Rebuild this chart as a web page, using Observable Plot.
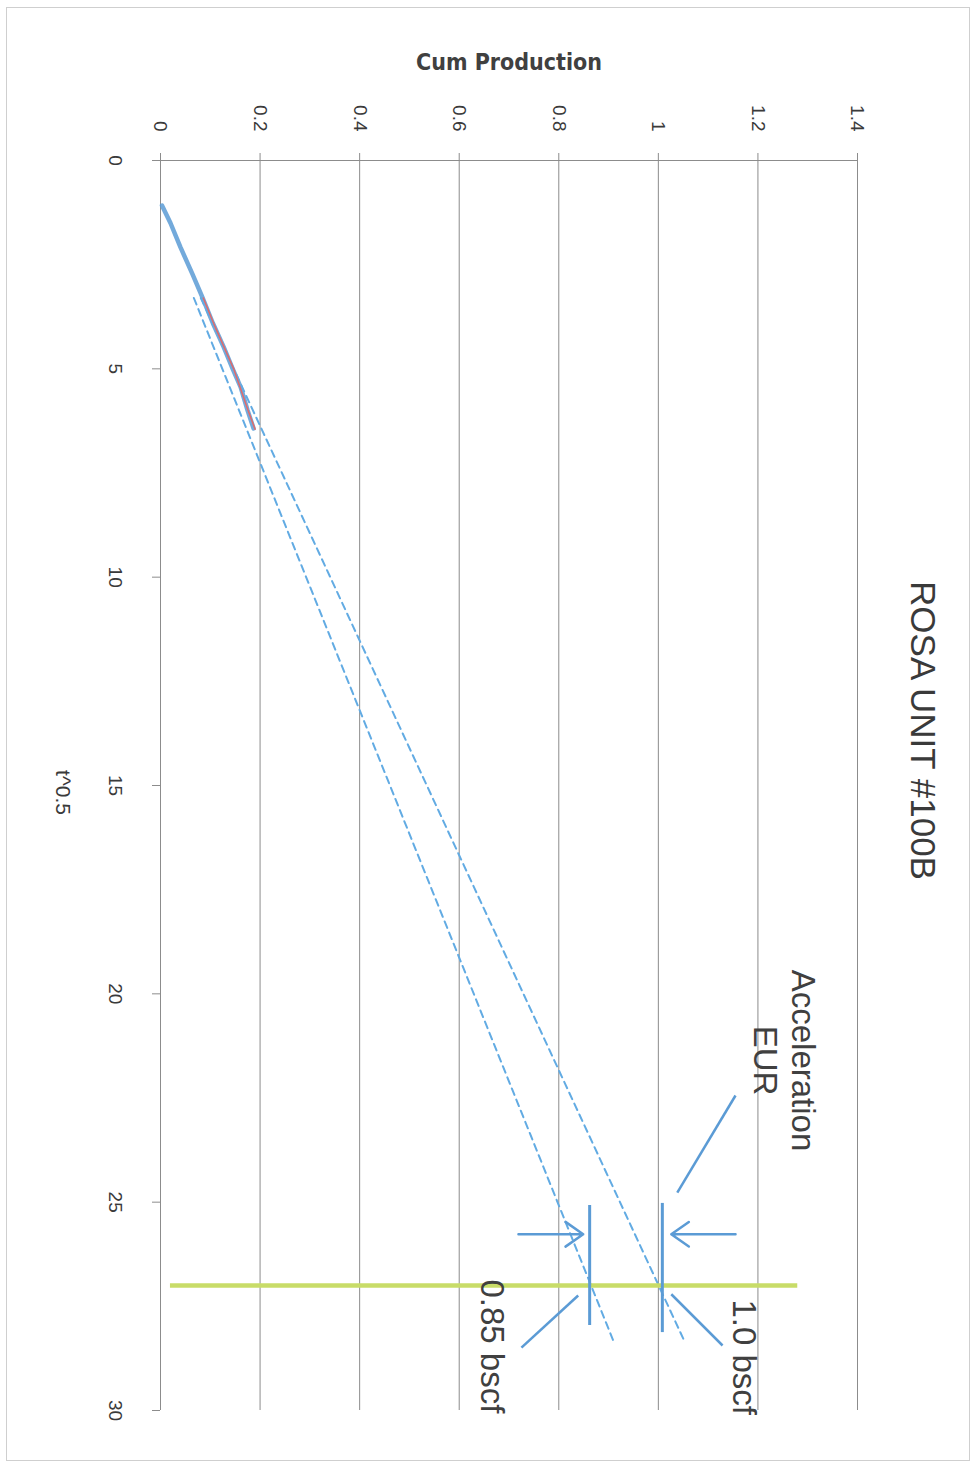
<!DOCTYPE html>
<html>
<head>
<meta charset="utf-8">
<script src="https://cdn.jsdelivr.net/npm/d3@7"></script>
<script src="https://cdn.jsdelivr.net/npm/@observablehq/plot@0.6"></script>
<style>
  html, body { margin: 0; padding: 0; background: #ffffff; }
  #wrap { position: relative; width: 978px; height: 1467px; overflow: hidden; }
  #border { position: absolute; left: 6px; top: 7px; width: 962px; height: 1452px; border: 1px solid #cfcfcf; pointer-events: none; }
</style>
</head>
<body>
<div id="wrap"><div id="border"></div></div>
<script>
// ---- data ----
const chartTitle = "ROSA UNIT #100B";
const yTitle = "Cum Production";
const xTitle = "t^0.5";
const cumTicks = [0, 0.2, 0.4, 0.6, 0.8, 1, 1.2, 1.4];
const tTicks = [0, 5, 10, 15, 20, 25, 30];

// observed cumulative production vs sqrt(time)
const tObs   = [1.08, 1.5, 2.08, 2.72, 3.28, 3.9, 4.48, 5.0, 5.44, 6.0, 6.43];
const cumObs = [0.003, 0.020, 0.040, 0.064, 0.084, 0.105, 0.127, 0.145, 0.161, 0.175, 0.187];

// red fitted segment
const tFit   = [3.3, 4.0, 5.0, 6.0, 6.45];
const cumFit = [0.086, 0.110, 0.147, 0.176, 0.190];

// dashed extrapolations
const tDashA   = [3.3, 28.3];
const cumDashA = [0.081, 1.051];
const tDashB   = [3.3, 28.4];
const cumDashB = [0.067, 0.912];

// evaluation time (green line)
const tEval = 27;
const cumEvalRange = [0.02, 1.28];

// EUR markers
const eurCum = [1.008, 0.862];
const eurT1 = [25.03, 25.08];
const eurT2 = [28.13, 27.96];

// arrows pointing at the EUR markers
const arrowCumFrom = [1.155, 0.719];
const arrowCumTo   = [1.026, 0.849];
const arrowT = 25.77;

// leader lines for labels
const leaderCum1 = [1.155, 1.026, 0.839];
const leaderT1   = [22.44, 27.21, 27.24];
const leaderCum2 = [1.038, 1.129, 0.725];
const leaderT2   = [24.77, 28.44, 28.49];

// annotation labels
const noteText = ["Acceleration\nEUR", "1.0 bscf", "0.85 bscf"];
const noteCum  = [1.255, 1.175, 0.669];
const noteT    = [21.6, 28.72, 28.46];

// ---- build tables ----
const obs = tObs.map((t, i) => ({t, cum: cumObs[i]}));
const fit = tFit.map((t, i) => ({t, cum: cumFit[i]}));
const dashA = tDashA.map((t, i) => ({t, cum: cumDashA[i]}));
const dashB = tDashB.map((t, i) => ({t, cum: cumDashB[i]}));
const bars = eurCum.map((c, i) => ({cum: c, t1: eurT1[i], t2: eurT2[i]}));
const arrows = arrowCumFrom.map((c, i) => ({c1: c, c2: arrowCumTo[i], t: arrowT}));
const leaders = leaderCum1.map((c, i) => ({c1: c, t1: leaderT1[i], c2: leaderCum2[i], t2: leaderT2[i]}));
const notes = noteText.map((s, i) => ({s, cum: noteCum[i], t: noteT[i]}));

const blue = "#5b9bd5";
const dashBlue = "#62abe3";
const gridC = "#8c8c8c";
const textC = "#3a3a3a";

const plot = Plot.plot({
  width: 978,
  height: 1467,
  marginLeft: 160,
  marginRight: 121,
  marginTop: 160,
  marginBottom: 57,
  x: {domain: [0, 1.4]},
  y: {domain: [0, 30], reverse: true},
  style: {fontFamily: "'Liberation Sans', Arial, sans-serif", background: "transparent", color: textC},
  marks: [
    Plot.gridX(cumTicks.filter(d => d > 0), {stroke: gridC, strokeOpacity: 1, strokeWidth: 1}),
    Plot.ruleX([0], {stroke: gridC, strokeWidth: 1}),
    Plot.ruleY([0], {stroke: gridC, strokeWidth: 1}),
    Plot.axisX({
      anchor: "top", ticks: cumTicks, tickSize: 8, tickPadding: 21,
      tickRotate: 90, textAnchor: "end", lineAnchor: "middle",
      tickFormat: d => String(d), label: null, fontSize: 19,
      stroke: gridC, fill: textC
    }),
    Plot.axisY({
      anchor: "left", ticks: tTicks, tickSize: 8, tickPadding: 37,
      tickRotate: 90, textAnchor: "middle", lineAnchor: "middle",
      tickFormat: d => String(d), label: null, fontSize: 19,
      stroke: gridC, fill: textC
    }),
    // data
    Plot.line(obs, {x: "cum", y: "t", stroke: blue, strokeWidth: 4.5, strokeOpacity: 0.85}),
    Plot.line(dashA, {x: "cum", y: "t", stroke: dashBlue, strokeWidth: 2, strokeDasharray: "7,5"}),
    Plot.line(dashB, {x: "cum", y: "t", stroke: dashBlue, strokeWidth: 2, strokeDasharray: "7,5"}),
    Plot.line(fit, {x: "cum", y: "t", stroke: "#e06a6a", strokeWidth: 1.5}),
    Plot.ruleY([tEval], {x1: cumEvalRange[0], x2: cumEvalRange[1], stroke: "#c8dc68", strokeWidth: 4.5}),
    // annotations
    Plot.ruleX(bars, {x: "cum", y1: "t1", y2: "t2", stroke: blue, strokeWidth: 3}),
    Plot.arrow(arrows, {x1: "c1", y1: "t", x2: "c2", y2: "t", stroke: blue, strokeWidth: 2.5, headLength: 16, headAngle: 70}),
    Plot.link(leaders, {x1: "c1", y1: "t1", x2: "c2", y2: "t2", stroke: blue, strokeWidth: 2.5}),
    Plot.text(notes, {x: "cum", y: "t", text: "s", rotate: 90, fontSize: 33, lineHeight: 1.15, fill: "#404040"}),
    // titles
    Plot.text([chartTitle], {frameAnchor: "right", dx: 65, dy: -55, rotate: 90, textAnchor: "middle", lineAnchor: "middle", fontSize: 35, fill: textC}),
    Plot.text([yTitle], {frameAnchor: "top", dy: -98, textAnchor: "middle", lineAnchor: "middle", fontSize: 23, fontWeight: "bold", fill: "#404040",
      fontFamily: "'Liberation Sans Narrow', 'DejaVu Sans Condensed', sans-serif"}),
    Plot.text([xTitle], {frameAnchor: "left", dx: -98, dy: 7, rotate: 90, textAnchor: "middle", lineAnchor: "middle", fontSize: 21, fill: textC})
  ]
});

document.getElementById("wrap").appendChild(plot);
plot.style.position = "absolute";
plot.style.left = "0px";
plot.style.top = "0px";
</script>
</body>
</html>
